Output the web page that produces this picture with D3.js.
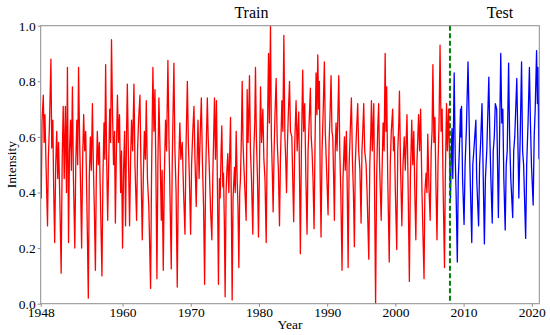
<!DOCTYPE html>
<html><head><meta charset="utf-8">
<script src="https://cdn.jsdelivr.net/npm/d3@7"></script>
<style>body{margin:0;background:#fff}svg{display:block}text{font-family:"Liberation Serif","Times New Roman",serif}</style>
</head><body><svg id="c" width="550" height="335"></svg>
<script>
// Train series: [year, intensity]
const trainData = [
[1948.00,.48],[1948.08,.38],[1948.20,.66],[1948.38,.75],[1948.50,.58],[1948.62,.68],[1948.78,.50],[1949.00,.28],
[1949.12,.52],[1949.28,.64],[1949.50,.88],[1949.62,.56],[1949.78,.66],[1949.90,.42],[1950.05,.22],[1950.20,.50],
[1950.35,.62],[1950.50,.45],[1950.62,.58],[1950.80,.38],[1951.00,.11],[1951.15,.52],[1951.30,.71],[1951.45,.45],
[1951.62,.71],[1951.78,.40],[1951.92,.85],[1952.08,.22],[1952.22,.55],[1952.38,.66],[1952.50,.48],[1952.65,.78],
[1952.80,.45],[1953.00,.20],[1953.15,.52],[1953.30,.66],[1953.42,.50],[1953.55,.85],[1953.70,.60],[1953.85,.42],
[1954.00,.20],[1954.15,.52],[1954.30,.68],[1954.45,.55],[1954.60,.62],[1954.78,.35],[1954.98,.02],[1955.12,.45],
[1955.28,.60],[1955.42,.48],[1955.58,.72],[1955.72,.50],[1955.88,.32],[1956.02,.12],[1956.15,.45],[1956.30,.62],
[1956.45,.50],[1956.60,.58],[1956.78,.35],[1956.98,.10],[1957.12,.45],[1957.28,.65],[1957.40,.52],[1957.52,.86],
[1957.65,.55],[1957.82,.30],[1957.95,.48],[1958.12,.70],[1958.25,.58],[1958.38,.95],[1958.52,.70],[1958.68,.50],
[1958.82,.62],[1958.95,.29],[1959.08,.52],[1959.25,.75],[1959.40,.58],[1959.55,.68],[1959.72,.40],[1959.85,.55],
[1960.00,.20],[1960.15,.48],[1960.30,.62],[1960.44,.28],[1960.58,.60],[1960.70,.79],[1960.85,.55],[1961.03,.28],
[1961.18,.52],[1961.32,.66],[1961.48,.55],[1961.67,.79],[1961.82,.50],[1962.06,.30],[1962.20,.55],[1962.35,.66],
[1962.55,.75],[1962.70,.50],[1962.89,.23],[1963.05,.46],[1963.20,.62],[1963.35,.52],[1963.48,.73],[1963.65,.45],
[1963.85,.35],[1964.11,.055],[1964.25,.46],[1964.45,.85],[1964.60,.62],[1964.75,.77],[1964.90,.45],[1965.04,.09],
[1965.18,.50],[1965.33,.74],[1965.50,.55],[1965.68,.30],[1965.80,.48],[1965.97,.12],[1966.12,.45],[1966.30,.66],
[1966.45,.55],[1966.65,.875],[1966.80,.60],[1966.95,.40],[1967.14,.125],[1967.28,.50],[1967.40,.68],[1967.53,.865],
[1967.68,.55],[1967.85,.40],[1968.02,.06],[1968.18,.45],[1968.40,.65],[1968.55,.52],[1968.75,.58],[1968.95,.40],
[1969.15,.25],[1969.30,.55],[1969.50,.80],[1969.65,.58],[1969.80,.45],[1969.98,.25],[1970.12,.50],[1970.30,.62],
[1970.47,.71],[1970.62,.52],[1970.80,.35],[1970.92,.50],[1971.06,.66],[1971.22,.45],[1971.40,.62],[1971.55,.74],
[1971.70,.52],[1971.88,.35],[1972.03,.07],[1972.18,.45],[1972.30,.60],[1972.43,.74],[1972.55,.60],[1972.70,.50],
[1972.90,.34],[1973.09,.23],[1973.25,.48],[1973.48,.74],[1973.62,.52],[1973.77,.73],[1973.92,.40],[1974.06,.07],
[1974.20,.45],[1974.31,.38],[1974.45,.55],[1974.55,.64],[1974.70,.42],[1974.80,.47],[1974.92,.30],[1975.04,.025],
[1975.18,.40],[1975.30,.48],[1975.43,.54],[1975.58,.40],[1975.72,.55],[1975.83,.67],[1975.95,.35],[1976.07,.013],
[1976.20,.38],[1976.41,.49],[1976.52,.40],[1976.66,.62],[1976.80,.45],[1976.92,.35],[1977.05,.13],[1977.18,.40],
[1977.29,.45],[1977.42,.60],[1977.54,.80],[1977.66,.58],[1977.78,.50],[1977.95,.40],[1978.12,.30],[1978.27,.77],
[1978.40,.58],[1978.50,.68],[1978.61,.82],[1978.75,.55],[1978.90,.45],[1979.10,.25],[1979.25,.55],[1979.38,.65],
[1979.49,.85],[1979.62,.60],[1979.78,.45],[1979.93,.24],[1980.08,.50],[1980.23,.78],[1980.38,.58],[1980.57,.70],
[1980.72,.52],[1980.88,.45],[1981.06,.22],[1981.20,.55],[1981.40,.90],[1981.52,.65],[1981.69,1.00],[1981.82,.60],
[1981.95,.48],[1982.08,.33],[1982.22,.55],[1982.35,.68],[1982.52,.81],[1982.68,.58],[1982.85,.48],[1983.01,.28],
[1983.15,.52],[1983.36,.73],[1983.50,.62],[1983.65,.965],[1983.80,.60],[1983.92,.52],[1984.04,.40],[1984.18,.58],
[1984.30,.68],[1984.48,.80],[1984.62,.62],[1984.82,.60],[1984.95,.45],[1985.09,.295],[1985.25,.58],[1985.44,.73],
[1985.60,.55],[1985.83,.69],[1985.95,.45],[1986.07,.18],[1986.22,.55],[1986.41,.84],[1986.55,.62],[1986.71,.72],
[1986.88,.45],[1987.05,.25],[1987.20,.55],[1987.35,.65],[1987.54,.775],[1987.66,.60],[1987.78,.55],[1987.92,.45],
[1988.08,.27],[1988.22,.58],[1988.37,.83],[1988.50,.68],[1988.62,.895],[1988.75,.70],[1988.86,.80],[1988.98,.45],
[1989.10,.24],[1989.25,.55],[1989.40,.68],[1989.59,.87],[1989.72,.62],[1989.89,.50],[1990.00,.42],[1990.13,.32],
[1990.28,.58],[1990.42,.68],[1990.57,.82],[1990.70,.62],[1990.82,.60],[1990.95,.45],[1991.06,.30],[1991.18,.55],
[1991.30,.65],[1991.45,.55],[1991.70,.82],[1991.85,.55],[1992.00,.40],[1992.18,.12],[1992.32,.45],[1992.53,.60],
[1992.65,.48],[1992.82,.62],[1992.95,.40],[1993.07,.13],[1993.22,.50],[1993.38,.62],[1993.55,.74],[1993.70,.52],
[1993.85,.40],[1993.99,.205],[1994.12,.50],[1994.30,.62],[1994.48,.72],[1994.62,.55],[1994.80,.48],[1994.97,.29],
[1995.10,.55],[1995.22,.62],[1995.36,.72],[1995.50,.55],[1995.71,.50],[1995.85,.40],[1996.10,.16],[1996.25,.50],
[1996.40,.62],[1996.49,.73],[1996.62,.55],[1996.83,.72],[1996.95,.40],[1997.10,.00],[1997.25,.45],[1997.40,.62],
[1997.55,.72],[1997.68,.50],[1997.80,.40],[1997.92,.30],[1998.05,.48],[1998.20,.65],[1998.35,.55],[1998.50,.90],
[1998.62,.62],[1998.72,.78],[1998.88,.45],[1999.10,.15],[1999.25,.50],[1999.40,.62],[1999.60,.70],[1999.72,.55],
[1999.85,.60],[2000.00,.40],[2000.20,.195],[2000.35,.55],[2000.50,.65],[2000.60,.765],[2000.75,.50],[2000.95,.28],
[2001.12,.50],[2001.30,.60],[2001.45,.48],[2001.70,.68],[2001.85,.45],[2002.05,.08],[2002.20,.45],[2002.40,.66],
[2002.55,.50],[2002.70,.62],[2002.85,.40],[2003.00,.23],[2003.15,.50],[2003.40,.68],[2003.55,.55],[2003.70,.70],
[2003.90,.40],[2004.20,.09],[2004.32,.40],[2004.50,.47],[2004.62,.40],[2004.75,.61],[2004.92,.42],[2005.10,.30],
[2005.25,.55],[2005.38,.62],[2005.50,.86],[2005.65,.58],[2005.80,.67],[2005.95,.42],[2006.10,.23],[2006.25,.50],
[2006.40,.65],[2006.55,.93],[2006.70,.62],[2006.85,.70],[2007.00,.42],[2007.20,.13],[2007.32,.45],[2007.50,.72],
[2007.62,.55],[2007.80,.70],[2007.92,.55],[2008.00,.47]
];
// Test series: [year, intensity]
const testData = [
[2008.00,.47],[2008.08,.38],[2008.20,.55],[2008.30,.63],[2008.42,.45],[2008.62,.83],[2008.78,.52],[2008.90,.40],
[2009.08,.15],[2009.22,.45],[2009.38,.55],[2009.55,.70],[2009.62,.60],[2009.70,.71],[2009.85,.45],[2010.07,.285],
[2010.22,.50],[2010.40,.62],[2010.65,.87],[2010.78,.70],[2010.92,.50],[2011.20,.22],[2011.35,.50],[2011.50,.55],
[2011.80,.66],[2011.92,.45],[2012.20,.28],[2012.35,.50],[2012.50,.58],[2012.70,.72],[2012.85,.50],[2013.05,.215],
[2013.20,.45],[2013.40,.55],[2013.70,.815],[2013.85,.60],[2014.00,.45],[2014.20,.29],[2014.35,.55],[2014.50,.60],
[2014.65,.72],[2014.85,.70],[2015.10,.31],[2015.25,.55],[2015.45,.90],[2015.60,.65],[2015.75,.70],[2015.90,.45],
[2016.10,.265],[2016.25,.50],[2016.40,.55],[2016.60,.865],[2016.75,.60],[2016.92,.45],[2017.20,.31],[2017.35,.55],
[2017.50,.60],[2017.80,.81],[2017.95,.60],[2018.10,.38],[2018.30,.60],[2018.50,.87],[2018.65,.55],[2018.80,.50],
[2019.10,.235],[2019.25,.50],[2019.45,.65],[2019.65,.85],[2019.80,.65],[2019.95,.50],[2020.20,.355],[2020.35,.60],
[2020.50,.70],[2020.70,.91],[2020.82,.72],[2020.90,.85],[2021.05,.52]
];
const splitYear = 2008;
const xTickValues = [1948, 1960, 1970, 1980, 1990, 2000, 2010, 2020];
const yTickValues = [0, 0.2, 0.4, 0.6, 0.8, 1.0];
const labels = {x: "Year", y: "Intensity", train: "Train", test: "Test"};
const titlePos = {train: 1978.9, test: 2015.35};

const FONT = '"Liberation Serif","Times New Roman",serif';
const svg = d3.select("#c");
const m = {l: 40.7, r: 550 - 539.3, t: 25.7, b: 335 - 303.7};
const W = 550, H = 335;
const x = d3.scaleLinear().domain([1948, 2021.1]).range([m.l, W - m.r]);
const y = d3.scaleLinear().domain([0, 1]).range([H - m.b, m.t]);

const line = d3.line().x(d => x(d[0])).y(d => y(d[1]));
const g = svg.append("g");
g.append("defs").append("clipPath").attr("id", "clip").append("rect")
  .attr("x", m.l).attr("y", m.t).attr("width", x.range()[1] - m.l).attr("height", y(0) - m.t);

g.append("path").datum(trainData).attr("d", line).attr("fill", "none")
  .attr("stroke", "#ff0000").attr("stroke-width", 1.3).attr("stroke-linejoin", "round").attr("clip-path", "url(#clip)");
g.append("path").datum(testData).attr("d", line).attr("fill", "none")
  .attr("stroke", "#0000ff").attr("stroke-width", 1.3).attr("stroke-linejoin", "round").attr("clip-path", "url(#clip)");

g.append("line").attr("x1", x(splitYear)).attr("x2", x(splitYear))
  .attr("y1", y(1)).attr("y2", y(0))
  .attr("stroke", "#008000").attr("stroke-width", 2).attr("stroke-dasharray", "5,2.5");

// frame
g.append("rect").attr("x", m.l).attr("y", m.t).attr("width", x.range()[1] - m.l).attr("height", y(0) - m.t)
  .attr("fill", "none").attr("stroke", "#8c8c8c").attr("stroke-width", 1);

const xAxis = g.append("g").attr("transform", `translate(0,${y(0)})`)
  .call(d3.axisBottom(x).tickValues(xTickValues).tickFormat(d3.format("d")).tickSize(3).tickPadding(1));
const yAxis = g.append("g").attr("transform", `translate(${m.l},0)`)
  .call(d3.axisLeft(y).tickValues(yTickValues).tickFormat(d3.format(".1f")).tickSize(3).tickPadding(2));
[xAxis, yAxis].forEach(a => {
  a.attr("font-family", FONT).attr("font-size", 13.5);
  a.select(".domain").remove();
  a.selectAll(".tick line").attr("stroke", "#8c8c8c");
  a.selectAll(".tick text").attr("fill", "#000");
});

svg.append("text").attr("x", (m.l + x.range()[1]) / 2).attr("y", 329).attr("text-anchor", "middle")
  .style("font-size", "13.5px").text(labels.x);
svg.append("text").attr("transform", `translate(16,${(m.t + y(0)) / 2}) rotate(-90)`).attr("text-anchor", "middle")
  .style("font-size", "13.5px").text(labels.y);
svg.append("text").attr("x", x(titlePos.train)).attr("y", 18).attr("text-anchor", "middle")
  .style("font-size", "16px").text(labels.train);
svg.append("text").attr("x", x(titlePos.test)).attr("y", 18).attr("text-anchor", "middle")
  .style("font-size", "16px").text(labels.test);
</script></body></html>
